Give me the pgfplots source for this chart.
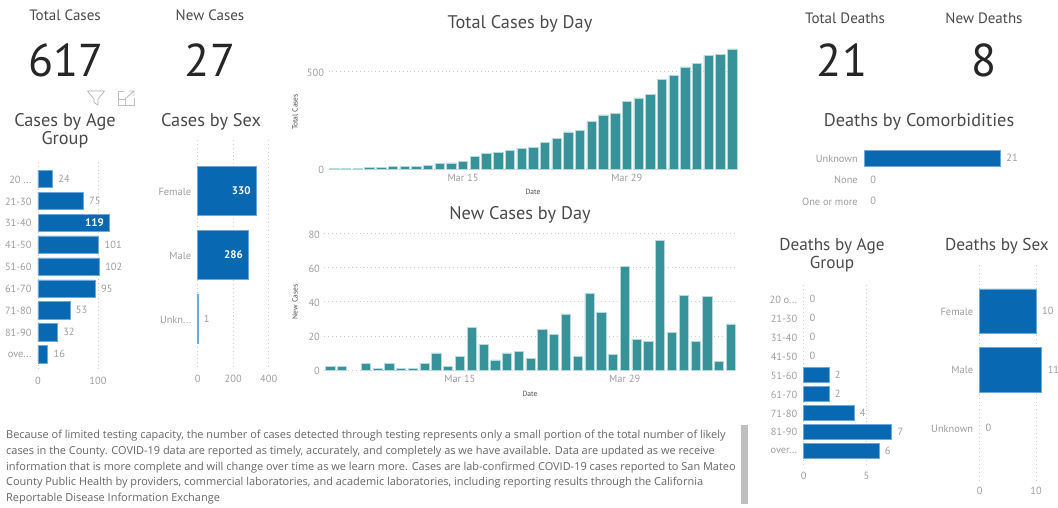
\documentclass[border=0pt]{standalone}
\usepackage{pgfplots}
\pgfplotsset{compat=1.18}
\usepackage{fontspec}
\setmainfont{PT Sans}
\newfontfamily\bodyfont{Open Sans}
\definecolor{teal1}{HTML}{38929A}
\definecolor{teal2}{HTML}{B5DADC}
\definecolor{blue1}{HTML}{0868B2}
\definecolor{blue2}{HTML}{6FA8D6}
\definecolor{tick}{HTML}{9E9E9E}
\definecolor{ttl}{HTML}{4A4A4A}
\definecolor{gridc}{HTML}{CCCCCC}
\pgfplotsset{
  base/.style={scale only axis, clip=false, axis line style={draw=none}, major tick length=0pt,
    /pgf/number format/assume math mode=true,
    tick label style={font=\fontsize{10.4}{11}\selectfont, text=tick},
    grid style={gridc, line width=0.7pt, dash pattern=on 0.7pt off 3.2pt}},
  hb/.style={base, y dir=reverse, xmin=0, xmajorgrids,
    yticklabel style={xshift=-3pt, yshift=-0.7pt}, xticklabel style={yshift=-4pt},
    nodes near coords style={font=\fontsize{10.4}{11}\selectfont, text=tick, xshift=2.5pt}},
  vb/.style={base, ymin=0, ymajorgrids, xtick={11,25}, xticklabels={Mar 15,Mar 29},
    yticklabel style={xshift=-1pt, yshift=-0.7pt}, xticklabel style={yshift=-2pt}},
  blueb/.style={xbar, bar shift=0pt, bar width=#1, fill=blue1, draw=blue2, line width=0.5pt, nodes near coords, point meta=x},
  zerob/.style={xbar, bar shift=0pt, bar width=1pt, draw=none, fill=none, nodes near coords, point meta=x},
  inb/.style={xbar, bar shift=0pt, bar width=#1, fill=blue1, draw=blue2, line width=0.5pt, nodes near coords, point meta=x,
    nodes near coords style={text=white, font=\fontsize{11}{11}\selectfont\bfseries, anchor=east, xshift=-4.5pt}},
  tealb/.style={ybar, bar shift=0pt, bar width=9.4pt, fill=teal1, draw=teal2, line width=0.5pt},
}
\newcommand{\ttlnode}[3]{\node[text=ttl, font=\fontsize{18.3}{18.6}\selectfont, align=center] at (#1pt,{508pt-#2pt}) {#3};}
\newcommand{\ttlsmall}[3]{\node[text=ttl, font=\fontsize{17.2}{18.6}\selectfont, align=center] at (#1pt,{508pt-#2pt}) {#3};}
\newcommand{\kpi}[3]{\node[text=ttl, font=\fontsize{15}{16}\selectfont] at (#1pt,{508pt-#2pt}) {#3};}
\newcommand{\bignum}[3]{\node[text=black!85, font=\fontsize{46}{50}\selectfont] at (#1pt,{508pt-#2pt}) {#3};}
\newcommand{\bodyline}[2]{\node[anchor=west, inner sep=0pt, text=black!60, font=\bodyfont\fontsize{10.95}{12}\selectfont] at (6pt,{508pt-#1pt}) {#2};}
\newcommand{\axt}[4]{\node[text=black!70, font=\fontsize{7.5}{8}\selectfont, rotate=#4] at (#1pt,{508pt-#2pt}) {#3};}
\begin{document}
\begin{tikzpicture}[x=1pt,y=1pt]
\useasboundingbox (0,0) rectangle (1058,508);
\fill[white] (0,0) rectangle (1058,508);

% KPI cards
\kpi{65}{15}{Total Cases}
\kpi{210}{15}{New Cases}
\kpi{845}{18}{Total Deaths}
\kpi{984}{18}{New Deaths}
\bignum{66}{60}{617}
\bignum{210}{60}{27}
\bignum{842}{60}{21}
\bignum{984}{60}{8}

% titles
\ttlnode{520}{24}{Total Cases by Day}
\ttlnode{520}{214.5}{New Cases by Day}
\ttlnode{65}{131}{Cases by Age\\Group}
\ttlnode{211}{122}{Cases by Sex}
\ttlnode{919}{122}{Deaths by Comorbidities}
\ttlsmall{832}{255}{Deaths by Age\\Group}
\ttlsmall{997}{246}{Deaths by Sex}

% Total Cases by Day
\begin{axis}[vb, at={(328.5pt,339pt)}, anchor=south west, width=409.4pt, height=124.5pt,
  xmin=-0.5, xmax=34.5, ymax=640, ytick={0,500}]
\addplot[tealb] coordinates {(0,2)(1,4)(2,4)(3,8)(4,9)(5,13)(6,14)(7,15)(8,19)(9,29)(10,31)(11,39)(12,64)(13,79)(14,85)(15,95)(16,106)(17,113)(18,137)(19,158)(20,191)(21,199)(22,244)(23,278)(24,287)(25,348)(26,366)(27,383)(28,459)(29,481)(30,525)(31,542)(32,585)(33,590)(34,617)};
\end{axis}
\axt{295}{112}{Total Cases}{90}
\axt{533}{192}{Date}{0}

% New Cases by Day
\begin{axis}[vb, at={(324.4pt,138pt)}, anchor=south west, width=412.2pt, height=139.7pt,
  xmin=-0.5, xmax=34.5, ymax=82, ytick={0,20,40,60,80}]
\addplot[tealb, bar width=9.2pt] coordinates {(0,2)(1,2)(3,4)(4,1)(5,4)(6,1)(7,1)(8,4)(9,10)(10,2)(11,8)(12,25)(13,15)(14,6)(15,10)(16,11)(17,7)(18,24)(19,21)(20,33)(21,8)(22,45)(23,34)(24,9)(25,61)(26,18)(27,17)(28,76)(29,22)(30,44)(31,17)(32,43)(33,5)(34,27)};
\end{axis}
\axt{295}{302}{New Cases}{90}
\axt{530}{394}{Date}{0}

% Cases by Age Group
\begin{axis}[hb, at={(38pt,138pt)}, anchor=south west, width=72pt, height=208.3pt,
  xmax=120, xtick={0,100}, ymin=-0.78, ymax=8.72, ytick={0,1,2,3,4,5,6,7,8},
  yticklabels={20 .{}.{}.,21-30,31-40,41-50,51-60,61-70,71-80,81-90,ove.{}.{}.}]
\addplot[blueb=17.3pt] coordinates {(24,0)(75,1)(101,3)(102,4)(95,5)(53,6)(32,7)(16,8)};
\addplot[inb=17.3pt] coordinates {(119,2)};
\end{axis}

% Cases by Sex
\begin{axis}[hb, at={(197.7pt,140pt)}, anchor=south west, width=71pt, height=228pt,
  xmax=400, xtick={0,200,400}, ymin=-0.797, ymax=2.766, ytick={0,1,2},
  yticklabels={Female,Male,Unkn.{}.{}.}]
\addplot[inb=49pt] coordinates {(330,0)(286,1)};
\addplot[blueb=49pt, draw=blue2, fill=blue2] coordinates {(1,2)};
\end{axis}

% Deaths by Comorbidities
\begin{axis}[hb, xmajorgrids=false, at={(864.3pt,294.1pt)}, anchor=south west, width=136pt, height=68.8pt,
  xmax=21, xtick=\empty, ymin=-0.6, ymax=2.6, ytick={0,1,2},
  yticklabels={Unknown,None,One or more}]
\addplot[blueb=16pt] coordinates {(21,0)};
\addplot[zerob] coordinates {(0,1)(0,2)};
\end{axis}

% Deaths by Age Group
\begin{axis}[hb, at={(803.7pt,43pt)}, anchor=south west, width=94pt, height=180pt,
  xmax=7.5, xtick={0,5}, ymin=-0.757, ymax=8.767, ytick={0,1,2,3,4,5,6,7,8},
  yticklabels={20 o.{}.{}.,21-30,31-40,41-50,51-60,61-70,71-80,81-90,over.{}.{}.}]
\addplot[blueb=15pt] coordinates {(2,4)(2,5)(4,6)(7,7)(6,8)};
\addplot[zerob] coordinates {(0,0)(0,1)(0,2)(0,3)};
\end{axis}

% Deaths by Sex
\begin{axis}[hb, at={(979.7pt,28pt)}, anchor=south west, width=62pt, height=215pt,
  xmax=11, xtick={0,10}, ymin=-0.784, ymax=2.881, ytick={0,1,2},
  yticklabels={Female,Male,Unknown}]
\addplot[blueb=44.3pt] coordinates {(10,0)(11,1)};
\addplot[zerob] coordinates {(0,2)};
\end{axis}

% icons
\draw[gray!60, line width=0.7pt, line join=round] (87.5,508-91) -- (104.5,508-91) -- (98,508-99) -- (98,508-105) -- (94,508-102.5) -- (94,508-99) -- cycle;
\draw[gray!50, line width=0.9pt] (124,508-91.5) -- (118.5,508-91.5) -- (118.5,508-105) -- (134,508-105) -- (134,508-98);
\draw[gray!50, line width=0.9pt] (125,508-99) -- (134,508-91) (129,508-91) -- (134,508-91) -- (134,508-96);
\draw[gray!50, line width=0.9pt] (118.5,508-99) -- (125,508-99) -- (125,508-105);

% body text
\bodyline{436}{Because of limited testing capacity, the number of cases detected through testing represents only a small portion of the total number of likely}
\bodyline{452}{cases in the County. COVID-19 data are reported as timely, accurately, and completely as we have available. Data are updated as we receive}
\bodyline{468}{information that is more complete and will change over time as we learn more. Cases are lab-confirmed COVID-19 cases reported to San Mateo}
\bodyline{483}{County Public Health by providers, commercial laboratories, and academic laboratories, including reporting results through the California}
\bodyline{499}{Reportable Disease Information Exchange}
\fill[black!25] (741,508-425) rectangle (748,508-504);
\end{tikzpicture}
\end{document}
